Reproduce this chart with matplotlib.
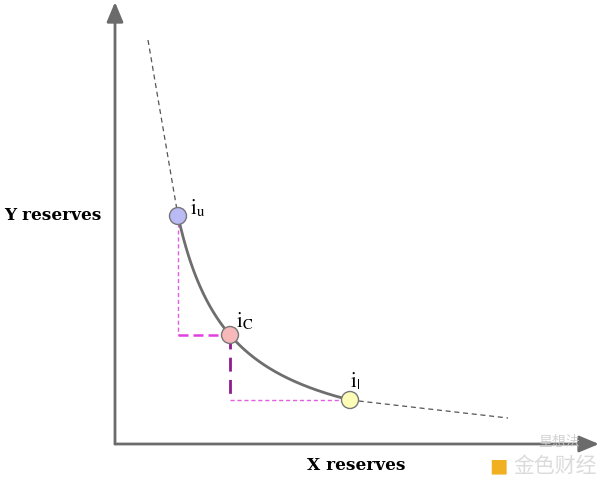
import numpy as np
import matplotlib
matplotlib.use("Agg")
from matplotlib import pyplot as plt

plt.rcParams['mathtext.fontset'] = 'stix'

# price points on the curve (x reserves, y reserves)
names = ['u', 'c', 'l']
pt_x = [63, 115, 235]
pt_y = [228, 109, 44]
pt_color = ['#babaf4', '#f6b8b8', '#fdfdb8']

# straight dashed extensions beyond the range
top_ext_x = [33, 63]
top_ext_y = [404, 228]
right_ext_x = [235, 393]
right_ext_y = [44, 26]

# fit (x - x0)(y - y0) = k through the three points
A = np.array([[-py, -px, -1.0] for px, py in zip(pt_x, pt_y)])
b = np.array([-px * py for px, py in zip(pt_x, pt_y)], dtype=float)
x0, y0, c = np.linalg.solve(A, b)
k = c + x0 * y0
cx = np.linspace(pt_x[0], pt_x[2], 200)
cy = y0 + k / (cx - x0)

fig = plt.figure(figsize=(6, 4.84), dpi=100)
ax = fig.add_axes([0, 0, 1, 1])
ax.set_xlim(-115, 485)
ax.set_ylim(-40, 444)
ax.axis('off')

axis_col = '#6b6b6b'
# axes with arrows
ax.annotate('', xy=(0, 442), xytext=(0, 0),
            arrowprops=dict(arrowstyle='-|>,head_length=1.2,head_width=0.5',
                            color=axis_col, lw=2, shrinkA=0, shrinkB=0))
ax.annotate('', xy=(484, 0), xytext=(0, 0),
            arrowprops=dict(arrowstyle='-|>,head_length=1.2,head_width=0.5',
                            color=axis_col, lw=2, shrinkA=0, shrinkB=0))

ax.plot(top_ext_x, top_ext_y, color='#555555', lw=0.9, ls=(0, (4, 3)))
ax.plot(right_ext_x, right_ext_y, color='#555555', lw=0.9, ls=(0, (4, 3)))
ax.plot(cx, cy, color='#6e6e6e', lw=2, zorder=3)

# dashed guides
ax.plot([pt_x[0], pt_x[0]], [pt_y[0], pt_y[1]], color='#e060e0', lw=1, ls=(0, (3, 2)), zorder=2)
ax.plot([pt_x[0], pt_x[1]], [pt_y[1], pt_y[1]], color='#e040e0', lw=1.8, ls=(0, (4, 2)), zorder=2)
ax.plot([pt_x[1], pt_x[1]], [pt_y[1], pt_y[2]], color='#8e1c8e', lw=2, ls=(0, (5, 3)), zorder=2)
ax.plot([pt_x[1], pt_x[2]], [pt_y[2], pt_y[2]], color='#e060e0', lw=1, ls=(0, (3, 2)), zorder=2)

ax.scatter(pt_x, pt_y, s=150, c=pt_color, edgecolors='#777777', linewidths=1, zorder=5)

label_off = [(12, 8), (6, 14), (0, 19)]
for n, px, py, (dx, dy) in zip(names, pt_x, pt_y, label_off):
    sub = r'\mathrm{u}' if n == 'u' else (r'\mathrm{C}' if n == 'c' else r'|')
    ax.text(px + dx, py + dy, r'$\mathrm{i}_{%s}$' % sub, fontsize=15, ha='left', va='center')

ax.text(-62, 228, 'Y reserves', fontsize=12.2, fontweight='bold', family='DejaVu Serif',
        ha='center', va='center')
ax.text(241, -22, 'X reserves', fontsize=12.2, fontweight='bold', family='DejaVu Serif',
        ha='center', va='center')

# watermark
ax.text(444, 2, '星想法', fontsize=10, color='#cccccc', family='Noto Sans CJK SC',
        ha='center', va='center', alpha=0.9)
ax.text(440, -22, '金色财经', fontsize=15, color='#d8d8d8', family='Noto Sans CJK SC',
        ha='center', va='center', alpha=0.9)
ax.text(383, -22, '■', fontsize=14, color='#f0b020', ha='center', va='center')

fig.savefig('out.png', dpi=100)
